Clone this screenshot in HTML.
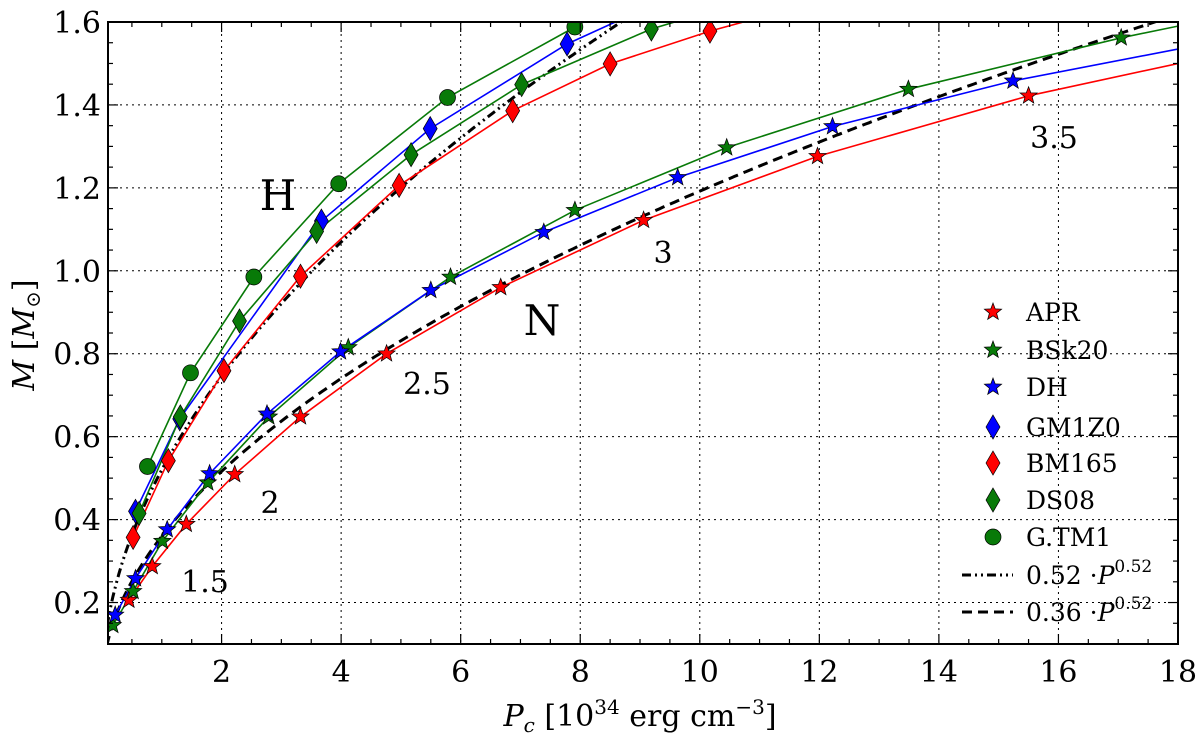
<!DOCTYPE html>
<html><head><meta charset="utf-8"><style>
html,body{margin:0;padding:0;background:#fff;}
svg{display:block;font-family:"DejaVu Serif","Liberation Serif",serif;}
</style></head><body>
<svg id="chart" width="1200" height="736" viewBox="0 0 1200 736">
<defs><clipPath id="plotclip"><rect x="108" y="22" width="1070" height="622"/></clipPath></defs>
<g id="grid"></g>
<g id="series" clip-path="url(#plotclip)"></g>
<rect x="108" y="22" width="1070" height="622" fill="none" stroke="#000" stroke-width="2"/>
<g id="ticks"></g>
<g id="annot" font-size="30">
<text x="278" y="210" font-size="42" text-anchor="middle">H</text>
<text x="542" y="335" font-size="42" text-anchor="middle">N</text>
<text x="205" y="592" text-anchor="middle">1.5</text>
<text x="270" y="513" text-anchor="middle">2</text>
<text x="427" y="394" text-anchor="middle">2.5</text>
<text x="663" y="263" text-anchor="middle">3</text>
<text x="1054" y="148" text-anchor="middle">3.5</text>
</g>
<text x="640" y="726" font-size="30" text-anchor="middle"><tspan font-style="italic">P</tspan><tspan font-size="20" dy="6" font-style="italic">c</tspan><tspan dy="-6"> [10</tspan><tspan font-size="20" dy="-12">34</tspan><tspan dy="12"> erg cm</tspan><tspan font-size="20" dy="-12">−3</tspan><tspan dy="12">]</tspan></text>
<text transform="translate(34,335) rotate(-90)" font-size="30" text-anchor="middle"><tspan font-style="italic">M</tspan> [<tspan font-style="italic">M</tspan><tspan font-size="20" dy="6">⊙</tspan><tspan dy="-6">]</tspan></text>
<g id="legend" font-size="25"></g>
</svg>
<script>
const xTicks=[2,4,6,8,10,12,14,16,18];
const yTicks=[0.2,0.4,0.6,0.8,1.0,1.2,1.4,1.6];
const yTickLabels=["0.2","0.4","0.6","0.8","1.0","1.2","1.4","1.6"];
// N branch (stars)
const aprX=[0.45,0.84,1.41,2.22,3.32,4.76,6.67,9.06,11.97,15.5];
const aprY=[0.206,0.287,0.389,0.509,0.648,0.800,0.960,1.122,1.276,1.422];
const aprTail=[18,1.50];
const bskX=[0.18,0.52,1.01,1.77,2.79,4.12,5.83,7.91,10.45,13.49,17.05];
const bskY=[0.145,0.227,0.348,0.489,0.648,0.815,0.985,1.146,1.297,1.438,1.562];
const bskTail=[18,1.59];
const dhX=[0.22,0.56,1.09,1.80,2.76,3.99,5.50,7.39,9.63,12.22,15.24];
const dhY=[0.170,0.258,0.376,0.511,0.655,0.805,0.953,1.093,1.225,1.348,1.458];
const dhTail=[18,1.535];
// H branch
const gmX=[0.56,1.30,3.67,5.49,7.78];
const gmY=[0.420,0.643,1.120,1.343,1.547];
const gmTail=[9.5,1.66];
const bmX=[0.52,1.11,2.04,3.32,4.97,6.87,8.50,10.17];
const bmY=[0.357,0.542,0.759,0.987,1.206,1.386,1.499,1.578];
const bmTail=[12,1.65];
const dsX=[0.62,1.31,2.30,3.59,5.17,7.02,9.19];
const dsY=[0.415,0.648,0.879,1.095,1.280,1.449,1.583];
const dsTail=[10.5,1.64];
const tmX=[0.76,1.48,2.54,3.96,5.78,7.91];
const tmY=[0.528,0.754,0.985,1.210,1.418,1.588];
const tmTail=[9,1.68];
const fitCoefs=[0.52,0.36];
const fitExp=0.52;

const NS="http://www.w3.org/2000/svg";
const X0=108,X1=1178,Y0=644,Y1=22,xmin=0.1,xmax=18,ymin=0.1,ymax=1.6;
function sx(v){return X0+(v-xmin)/(xmax-xmin)*(X1-X0);}
function sy(v){return Y0-(v-ymin)/(ymax-ymin)*(Y0-Y1);}
function mk(tag,attrs,parent){const e=document.createElementNS(NS,tag);for(const k in attrs)e.setAttribute(k,attrs[k]);parent.appendChild(e);return e;}
const grid=document.getElementById('grid'),ticks=document.getElementById('ticks'),ser=document.getElementById('series'),leg=document.getElementById('legend');

xTicks.forEach(t=>{
  const x=sx(t);
  if(t<18){const g=mk('line',{x1:x,x2:x,y1:Y1,y2:Y0,stroke:'#000','stroke-width':1,'stroke-dasharray':'2,4'},grid);
  }
  const l=mk('text',{x:x,y:682,'font-size':30,'text-anchor':'middle'},ticks);l.textContent=String(t);
  
});
for(let v=0.5;v<18;v+=0.5){const x=sx(v);const maj=Math.abs(v/2-Math.round(v/2))<1e-6;const len=maj?10:5;
  mk('line',{x1:x,x2:x,y1:Y0,y2:Y0-len,stroke:'#000','stroke-width':1.2},ticks);
  mk('line',{x1:x,x2:x,y1:Y1,y2:Y1+len,stroke:'#000','stroke-width':1.2},ticks);}
yTicks.forEach((t,i)=>{
  const y=sy(t);
  if(t<1.6){const g=mk('line',{x1:X0,x2:X1,y1:y,y2:y,stroke:'#000','stroke-width':1,'stroke-dasharray':'2,4'},grid);
  }
  const l=mk('text',{x:101,y:y+11,'font-size':30,'text-anchor':'end'},ticks);l.textContent=yTickLabels[i];
  
});
for(let v=0.15;v<1.6;v+=0.05){const y=sy(v);const maj=Math.abs(v*5-Math.round(v*5))<1e-6;const len=maj?10:5;
  mk('line',{x1:X0,x2:X0+len,y1:y,y2:y,stroke:'#000','stroke-width':1.2},ticks);
  mk('line',{x1:X1,x2:X1-len,y1:y,y2:y,stroke:'#000','stroke-width':1.2},ticks);}

// fits
const fitStyles=['9,4,2,4,2,4','10,6'];
const fitNames=['fit-line-052','fit-line-036'];
fitCoefs.forEach((c,i)=>{let d='';for(let p=0.03;p<=18.01;p+=0.05){d+=(d?'L':'M')+sx(p).toFixed(1)+','+sy(c*Math.pow(p,fitExp)).toFixed(1);}
  const e=mk('path',{d:d,fill:'none',stroke:'#000','stroke-width':3,'stroke-dasharray':fitStyles[i]},ser);
  });

function starPts(cx,cy,r){let s='';for(let k=0;k<10;k++){const a=-Math.PI/2+k*Math.PI/5;const rr=k%2?r*0.42:r;s+=(cx+rr*Math.cos(a)).toFixed(1)+','+(cy+rr*Math.sin(a)).toFixed(1)+' ';}return s;}
function marker(type,cx,cy,col,parent){
  if(type==='star')return mk('polygon',{points:starPts(cx,cy,9),fill:col,stroke:'#000','stroke-width':0.7},parent);
  if(type==='diamond')return mk('polygon',{points:`${cx},${cy-12} ${cx+7},${cy} ${cx},${cy+12} ${cx-7},${cy}`,fill:col,stroke:'#000','stroke-width':0.7},parent);
  return mk('circle',{cx:cx,cy:cy,r:8,fill:col,stroke:'#000','stroke-width':0.7},parent);
}
const RED='#ff0000',GRN='#087a08',BLU='#0000ff';
const seriesList=[
 ['APR',aprX,aprY,aprTail,RED,'star'],
 ['BSk20',bskX,bskY,bskTail,GRN,'star'],
 ['DH',dhX,dhY,dhTail,BLU,'star'],
 ['GM1Z0',gmX,gmY,gmTail,BLU,'diamond'],
 ['BM165',bmX,bmY,bmTail,RED,'diamond'],
 ['DS08',dsX,dsY,dsTail,GRN,'diamond'],
 ['G.TM1',tmX,tmY,tmTail,GRN,'circle']];
seriesList.forEach(s=>{
  const [name,xs,ys,tail,col,type]=s;
  const slug=name.toLowerCase().replace(/\./g,'');
  let pts=xs.map((x,i)=>sx(x).toFixed(1)+','+sy(ys[i]).toFixed(1));
  pts.push(sx(tail[0]).toFixed(1)+','+sy(tail[1]).toFixed(1));
  const l=mk('polyline',{points:pts.join(' '),fill:'none',stroke:col,'stroke-width':1.6},ser);
  
});
seriesList.forEach(s=>{
  const [name,xs,ys,tail,col,type]=s;
  const slug=name.toLowerCase().replace(/\./g,'');
  xs.forEach((x,i)=>{const m=marker(type,sx(x),sy(ys[i]),col,ser);
    });
});

// legend
const legItems=[['APR','star',RED],['BSk20','star',GRN],['DH','star',BLU],['GM1Z0','diamond',BLU],['BM165','diamond',RED],['DS08','diamond',GRN],['G.TM1','circle',GRN]];
const legY=[312,350,387,427,463,500,537,575,612];
legItems.forEach((it,i)=>{
  const g=mk('g',{},leg);
  
  marker(it[1],993,legY[i],it[2],g);
  const t=mk('text',{x:1026,y:legY[i]+9},g);t.textContent=it[0];
});
[[0,'9,4,2,4,2,4','0.52'],[1,'10,6','0.36']].forEach((f,j)=>{
  const y=legY[7+j];const g=mk('g',{},leg);
  
  mk('line',{x1:962,x2:1013,y1:y,y2:y,stroke:'#000','stroke-width':3,'stroke-dasharray':f[1]},g);
  const t=mk('text',{x:1026,y:y+9},g);
  t.innerHTML=f[2]+' ·<tspan font-style="italic">P</tspan><tspan font-size="17" dy="-12">0.52</tspan>';
});
</script>
</body></html>
